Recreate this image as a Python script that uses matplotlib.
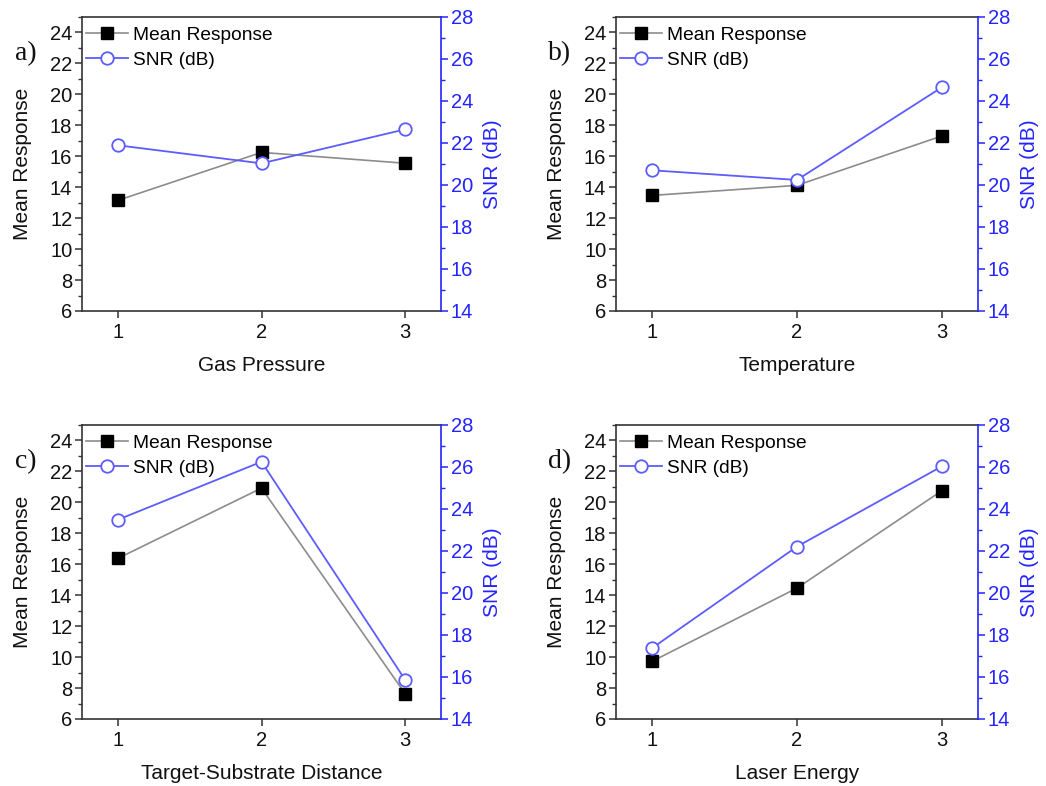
import matplotlib
matplotlib.use("Agg")
import matplotlib.pyplot as plt
from matplotlib.ticker import MultipleLocator

plt.rcParams["font.family"] = ["Liberation Sans", "DejaVu Sans"]

# =====================================================
# DATA
# =====================================================
LEVELS = [1, 2, 3]
PANEL_TAGS = ["a)", "b)", "c)", "d)"]
FACTORS = ["Gas Pressure", "Temperature", "Target-Substrate Distance", "Laser Energy"]

MEAN_GAS = [13.15, 16.25, 15.55]
MEAN_TEMP = [13.47, 14.12, 17.31]
MEAN_DIST = [16.38, 20.92, 7.64]
MEAN_LASER = [9.73, 14.46, 20.75]

SNR_GAS = [21.89, 21.03, 22.65]
SNR_TEMP = [20.70, 20.24, 24.65]
SNR_DIST = [23.49, 26.25, 15.87]
SNR_LASER = [17.38, 22.21, 26.03]

MEANS = [MEAN_GAS, MEAN_TEMP, MEAN_DIST, MEAN_LASER]
SNRS = [SNR_GAS, SNR_TEMP, SNR_DIST, SNR_LASER]

# =====================================================
# STYLE
# =====================================================
W, H = 1046, 786
BLUE_TXT = "#2424ff"
BLUE_LINE = "#5c5cff"
GRAY_LINE = "#8c8c8c"
FRAME = "#333333"

# axes boxes in pixels: left, right, top, bottom
BOXES = [
    (82, 441, 17, 311),
    (616, 978, 17, 311),
    (82, 441, 425, 719),
    (616, 978, 425, 719),
]

fig = plt.figure(figsize=(W / 100, H / 100), dpi=100)

for i in range(4):
    l, r, t, b = BOXES[i]
    ax = fig.add_axes([l / W, 1 - b / H, (r - l) / W, (b - t) / H])
    ax2 = ax.twinx()

    ln1, = ax.plot(LEVELS, MEANS[i], color=GRAY_LINE, lw=1.2, marker="s",
                   ms=8, mfc="black", mec="black", label="Mean Response", zorder=3)
    ln2, = ax2.plot(LEVELS, SNRS[i], color=BLUE_LINE, lw=1.3, marker="o",
                    ms=9, mfc="white", mec=BLUE_LINE, mew=1.3, label="SNR (dB)", zorder=3)

    ax.set_xlim(0.75, 3.25)
    ax.set_ylim(6, 25)
    ax2.set_ylim(14, 28)
    ax.set_xticks(LEVELS)
    ax.yaxis.set_major_locator(MultipleLocator(2))
    ax.yaxis.set_minor_locator(MultipleLocator(1))
    ax2.yaxis.set_major_locator(MultipleLocator(2))
    ax2.yaxis.set_minor_locator(MultipleLocator(1))

    for s in ["left", "bottom", "top"]:
        ax.spines[s].set_color(FRAME)
        ax.spines[s].set_linewidth(1.2)
    ax2.spines["right"].set_color(BLUE_TXT)
    ax2.spines["right"].set_linewidth(1.2)
    ax2.spines["left"].set_visible(False)
    ax2.spines["top"].set_visible(False)
    ax2.spines["bottom"].set_visible(False)
    ax.spines["right"].set_visible(False)

    ax.tick_params(axis="both", which="major", direction="out", length=5,
                   width=1.1, color=FRAME, labelsize=14.5, labelcolor="#111111")
    ax.tick_params(axis="y", which="minor", direction="out", length=3,
                   width=1.0, color=FRAME)
    ax.tick_params(axis="x", pad=4)
    ax.tick_params(axis="y", pad=2)
    ax2.tick_params(axis="y", which="major", direction="out", length=5,
                    width=1.1, color=BLUE_TXT, labelsize=14.5, labelcolor=BLUE_TXT, pad=2)
    ax2.tick_params(axis="y", which="minor", direction="out", length=3,
                    width=1.0, color=BLUE_TXT)

    ax.set_ylabel("Mean Response", fontsize=15, color="#111111", labelpad=13)
    ax2.set_ylabel("SNR (dB)", fontsize=15, color=BLUE_TXT, labelpad=7)
    ax.set_xlabel(FACTORS[i], fontsize=15, color="#111111", labelpad=10)

    ax.legend([ln1, ln2], ["Mean Response", "SNR (dB)"], loc="upper left",
              bbox_to_anchor=(-0.014, 0.997),
              frameon=False, fontsize=13.8, handlelength=2.2, handletextpad=0.25,
              labelspacing=0.38, borderaxespad=0.15, borderpad=0.3)

    fig.text((l - 56) / W, 1 - (t + 37) / H, PANEL_TAGS[i], fontsize=20,
             family=["Liberation Serif", "DejaVu Serif"], ha="center", va="center",
             color="#111111")

fig.savefig("out.png", dpi=100)
